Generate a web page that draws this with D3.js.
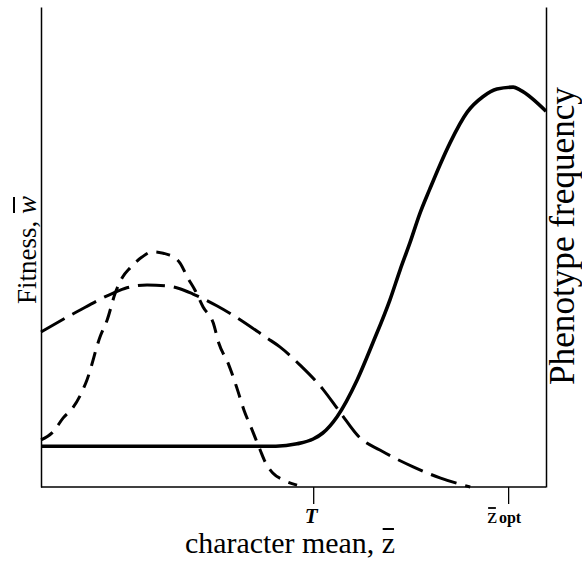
<!DOCTYPE html>
<html>
<head>
<meta charset="utf-8">
<script src="https://cdn.jsdelivr.net/npm/d3@7"></script>
<style>
  html, body { margin: 0; padding: 0; background: #fff; }
  svg { display: block; }
  text { font-family: "Liberation Serif", "DejaVu Serif", serif; fill: #000; }
</style>
</head>
<body>
<svg id="chart" width="582" height="563"></svg>
<script>
// ---- data (character mean on 0-100, value on 0-100) ----
const fitnessX = [0, 11.7, 31.5, 46.5, 50.7, 53.9, 55.8, 58.6, 62.6, 65.7, 69.1, 71.1, 73.1, 75.0, 77.0, 79.0, 81.0, 84.4, 87.5, 90.3, 93.5, 94.9, 100];
const fitnessY = [8.5, 8.5, 8.5, 8.5, 9.0, 10.0, 11.25, 14.6, 22.3, 30.0, 39.0, 45.2, 51.0, 56.9, 62.1, 67.1, 71.7, 78.1, 81.3, 82.9, 83.3, 82.7, 78.3];

const wideX = [0, 7.1, 14.3, 17.0, 21.0, 25.0, 27.5, 30.1, 34.9, 38.0, 44.8, 47.3, 51.3, 55.8, 59.2, 63.2, 67.1, 73.7, 79.0, 85.0];
const wideY = [32.3, 36.5, 40.4, 41.5, 42.1, 41.9, 41.3, 40.2, 37.7, 35.8, 31.0, 29.2, 25.4, 20.4, 15.6, 10.2, 7.7, 4.2, 1.9, 0];

const narrowX = [0, 2.4, 4.4, 6.3, 8.1, 9.1, 11.7, 13.1, 14.7, 16.2, 17.6, 20.0, 22.0, 25.5, 27.5, 29.1, 30.5, 32.1, 34.1, 35.2, 37.2, 38.8, 40.2, 41.8, 43.4, 44.4, 45.9, 47.9, 50.7];
const narrowY = [9.8, 11.5, 14.4, 16.5, 19.8, 22.3, 31.3, 34.8, 40.4, 43.8, 45.6, 47.9, 49.0, 48.3, 46.7, 43.5, 41.0, 37.5, 34.2, 30.0, 25.4, 20.6, 16.0, 11.9, 7.7, 5.2, 2.9, 1.5, 0.4];

const tickValues = [53.9, 92.5];
const tickLabels = ["T", "z", "opt"];
const xTitle = "character mean, z";
const yTitleLeft = "Fitness, w";
const yTitleRight = "Phenotype frequency";

// ---- layout ----
const svg = d3.select("#chart");
const mLeft = 41, mRight = 546, mTop = 7, mBottom = 487;
const x = d3.scaleLinear().domain([0, 100]).range([mLeft, mRight]);
const y = d3.scaleLinear().domain([0, 100]).range([mBottom, mTop]);

const line = d3.line().x(d => x(d[0])).y(d => y(d[1])).curve(d3.curveMonotoneX);
const zip = (a, b) => a.map((v, i) => [v, b[i]]);

// curves
svg.append("path").datum(zip(narrowX, narrowY)).attr("d", line)
  .attr("fill", "none").attr("stroke", "#000").attr("stroke-width", 3)
  .attr("stroke-dasharray", "14,9");
svg.append("path").datum(zip(wideX, wideY)).attr("d", line)
  .attr("fill", "none").attr("stroke", "#000").attr("stroke-width", 3)
  .attr("stroke-dasharray", "27,9");
svg.append("path").datum(zip(fitnessX, fitnessY)).attr("d", line)
  .attr("fill", "none").attr("stroke", "#000").attr("stroke-width", 3.6)
  .attr("stroke-linejoin", "round");

// axes
const xAxis = d3.axisBottom(x).tickValues(tickValues).tickSize(17).tickFormat("");
const gx = svg.append("g").attr("transform", `translate(0,${mBottom})`).call(xAxis);
gx.select(".domain").attr("d", `M${mLeft},0H${mRight}`).attr("stroke-width", 1.5);
gx.selectAll(".tick line").attr("stroke-width", 1.3);

const yAxisL = d3.axisLeft(y).tickValues([]).tickSizeOuter(0);
const gyl = svg.append("g").attr("transform", `translate(${mLeft},0)`).call(yAxisL);
gyl.select(".domain").attr("stroke-width", 1.5);
const yAxisR = d3.axisRight(y).tickValues([]).tickSizeOuter(0);
const gyr = svg.append("g").attr("transform", `translate(${mRight},0)`).call(yAxisR);
gyr.select(".domain").attr("stroke-width", 1.5);

// helper: overline over char index
function overline(textSel, idx, offset, width) {
  const node = textSel.node();
  const ext = node.getExtentOfChar(idx);
  svg.append("line")
    .attr("x1", ext.x + 1).attr("y1", ext.y + offset)
    .attr("x2", ext.x + ext.width - 1).attr("y2", ext.y + offset)
    .attr("transform", textSel.attr("transform"))
    .attr("stroke", "#000").attr("stroke-width", width);
}

function fitText(sel, target) {
  const w = sel.node().getComputedTextLength();
  const fs = parseFloat(sel.attr("font-size"));
  sel.attr("font-size", fs * target / w);
}

// tick labels
svg.append("text").attr("x", x(tickValues[0]) - 2).attr("y", 523)
  .attr("text-anchor", "middle").attr("font-size", 21)
  .attr("font-weight", "bold").attr("font-style", "italic").text(tickLabels[0]);

const zt = svg.append("text").attr("x", x(tickValues[1]) - 21).attr("y", 523)
  .attr("font-size", 22);
zt.append("tspan").text(tickLabels[1]);
zt.append("tspan").attr("font-size", 16).attr("font-weight", "bold").attr("dx", 2).text(tickLabels[2]);
overline(zt, 0, 5, 1.8);

// x title
const xt = svg.append("text").attr("x", 290).attr("y", 553)
  .attr("text-anchor", "middle").attr("font-size", 28).text(xTitle);
fitText(xt, 210);
overline(xt, xTitle.length - 1, 3, 2);

// left y title
const ylt = svg.append("text").attr("transform", "translate(36,250) rotate(-90)")
  .attr("text-anchor", "middle").attr("font-size", 28);
ylt.append("tspan").text("Fitness, ");
ylt.append("tspan").attr("font-style", "italic").text("w");
fitText(ylt, 108);
overline(ylt, yTitleLeft.length - 1, 2, 2);

// right y title
const yrt = svg.append("text").attr("transform", "translate(574,236) rotate(-90)")
  .attr("text-anchor", "middle").attr("font-size", 26).text(yTitleRight);
fitText(yrt, 298);
</script>
</body>
</html>
